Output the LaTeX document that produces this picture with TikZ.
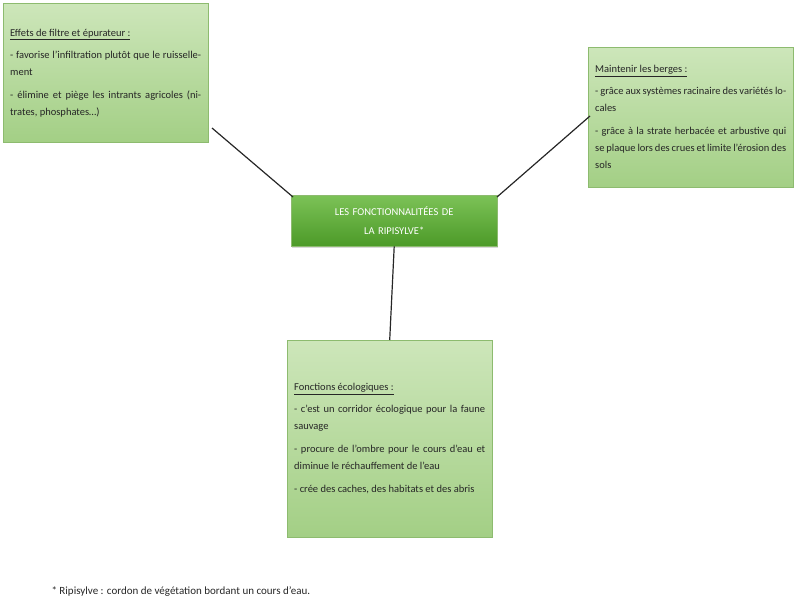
\documentclass[tikz,border=0pt]{standalone}
\usepackage{fontspec}
\setmainfont{Carlito}
\usetikzlibrary{shadows}
\definecolor{gtop}{HTML}{CDE6BA}
\definecolor{gbot}{HTML}{A3CF85}
\definecolor{gbd}{HTML}{8DBB6F}
\definecolor{ctop}{HTML}{7CC257}
\definecolor{cbot}{HTML}{4C9A28}
\definecolor{txt}{HTML}{262626}
\begin{document}
\begin{tikzpicture}[x=1pt,y=-1pt,
  box/.style={draw=gbd,top color=gtop,bottom color=gbot,minimum width=205pt,text width=191pt,align=justify,inner sep=7pt,anchor=north west,font=\fontsize{10.5}{17}\selectfont,text=txt,drop shadow={shadow xshift=1pt,shadow yshift=-1pt,opacity=0.25}},
  link/.style={draw=black!85,line width=1.2pt}]
\useasboundingbox (0,0) rectangle (799,611);
\node[box,minimum height=139pt] (fil) at (3,3) {\underline{Effets de filtre et épurateur :}\par\vspace{5pt}
- favorise l’infiltration plutôt que le ruissellement\par\vspace{6pt}
- élimine et piège les intrants agricoles (nitrates, phosphates…)};
\node[box,minimum height=140pt] (ber) at (588,47) {\underline{Maintenir les berges :}\par\vspace{5pt}
- grâce aux systèmes racinaire des variétés locales\par\vspace{6pt}
- grâce à la strate herbacée et arbustive qui se plaque lors des crues et limite l’érosion des sols};
\node[box,minimum height=197pt,anchor=north west] (eco) at (287,340) {\underline{Fonctions écologiques :}\par\vspace{5pt}
- c’est un corridor écologique pour la faune sauvage\par\vspace{6pt}
- procure de l’ombre pour le cours d’eau et diminue le réchauffement de l’eau\par\vspace{6pt}
- crée des caches, des habitats et des abris};
\node[draw=gbd,top color=ctop,bottom color=cbot,minimum width=206pt,minimum height=51pt,text width=190pt,align=center,text=white,font=\fontsize{10.5}{19}\selectfont,anchor=north west,drop shadow={shadow xshift=1pt,shadow yshift=-1.5pt,opacity=0.3}] (cen) at (291,195) {LES FONCTIONNALITÉES DE\\LA RIPISYLVE*};
\coordinate (a1) at (212,128);
\coordinate (a2) at (293,197);
\coordinate (b1) at (590,116);
\coordinate (b2) at (497,197);
\draw[link] (a1) -- (a2);
\draw[link] (b1) -- (b2);
\draw[link] (cen.south) -- (eco.north);
\node[anchor=west,font=\fontsize{11}{13}\selectfont,text=txt] (note) at (48,592) {* Ripisylve : cordon de végétation bordant un cours d’eau.};
\end{tikzpicture}
\end{document}
